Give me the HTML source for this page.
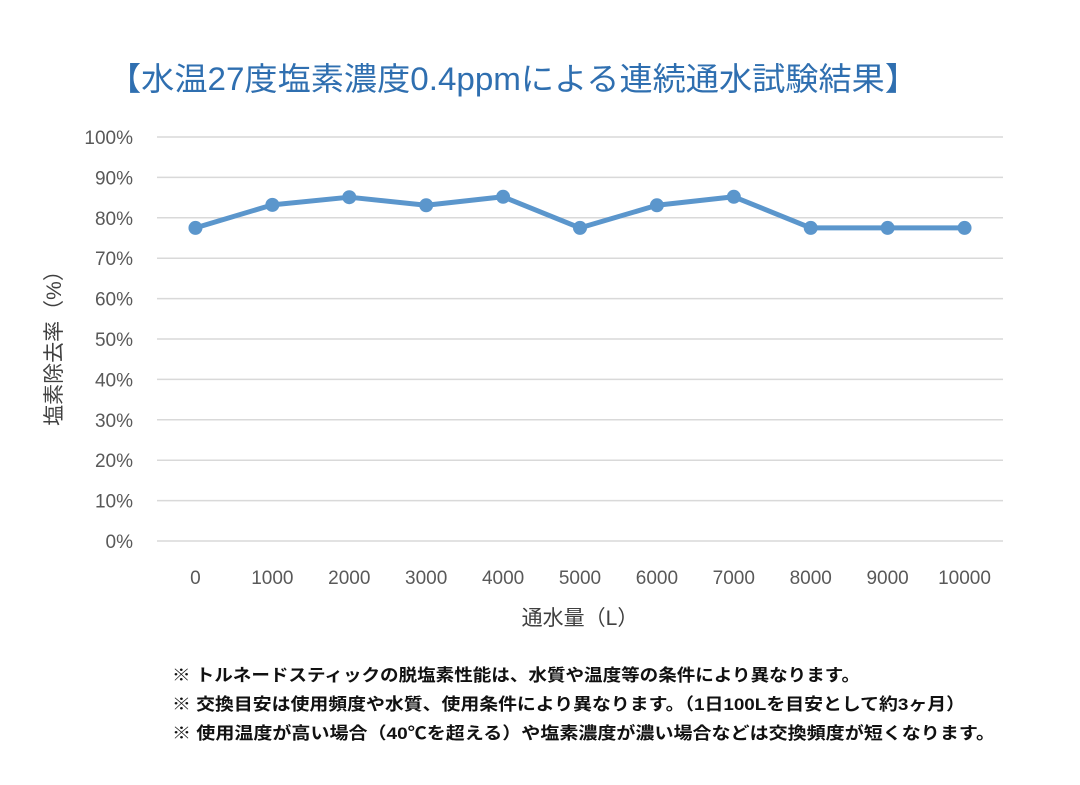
<!DOCTYPE html>
<html><head><meta charset="utf-8"><style>
body{margin:0;background:#fff;width:1080px;height:780px;overflow:hidden;font-family:"Liberation Sans","Noto Sans CJK JP",sans-serif}
</style></head><body>
<svg id="c" width="1080" height="780" style="font-family:'Liberation Sans','Noto Sans CJK JP',sans-serif">
<text x="108" y="90" font-size="32" fill="#2f6fb0" textLength="810" lengthAdjust="spacingAndGlyphs">【水温27度塩素濃度0.4ppmによる連続通水試験結果】</text>
<g id="grid"></g><g id="ylab"></g><g id="xlab"></g><g id="series"></g>
<text transform="translate(61,343) rotate(-90)" text-anchor="middle" font-size="21" fill="#404040">塩素除去率（%）</text>
<text x="580" y="625" text-anchor="middle" font-size="21" fill="#404040">通水量（L）</text>
<g font-size="17" fill="#111" font-weight="600">
<text x="172" y="681" textLength="688" lengthAdjust="spacingAndGlyphs">※ トルネードスティックの脱塩素性能は、水質や温度等の条件により異なります。</text>
<text x="172" y="710" textLength="793" lengthAdjust="spacingAndGlyphs">※ 交換目安は使用頻度や水質、使用条件により異なります。（1日100Lを目安として約3ヶ月）</text>
<text x="172" y="739" textLength="823" lengthAdjust="spacingAndGlyphs">※ 使用温度が高い場合（40℃を超える）や塩素濃度が濃い場合などは交換頻度が短くなります。</text>
</g>
</svg>
<script>
const categories=["0","1000","2000","3000","4000","5000","6000","7000","8000","9000","10000"];
const values=[77.5,83.2,85.1,83.1,85.2,77.5,83.1,85.2,77.5,77.5,77.5];
const yTicks=[0,10,20,30,40,50,60,70,80,90,100];
const NS="http://www.w3.org/2000/svg";
const L=157,R=1003,T=137,B=541;
const bw=(R-L)/categories.length;
const x=i=>L+bw*(i+0.5);
const y=v=>B-(B-T)*v/100;
function mk(t,a,p){const e=document.createElementNS(NS,t);for(const k in a)e.setAttribute(k,a[k]);p.appendChild(e);return e;}
const g=document.getElementById('grid'),yl=document.getElementById('ylab'),xl=document.getElementById('xlab'),s=document.getElementById('series');
yTicks.forEach(v=>{
 const l=mk('line',{x1:L,x2:R,y1:y(v),y2:y(v),stroke:'#d9d9d9','stroke-width':1.5},g);
 
 
 const t=mk('text',{x:133,y:y(v)+7,'text-anchor':'end','font-size':19,fill:'#595959'},yl);
 t.textContent=v+'%';
 
 
});
categories.forEach((c,i)=>{
 const t=mk('text',{x:x(i),y:584,'text-anchor':'middle','font-size':19,fill:'#595959'},xl);
 t.textContent=c;
 
 
});
const pl=mk('polyline',{points:values.map((v,i)=>x(i)+','+y(v)).join(' '),fill:'none',stroke:'#5b96cc','stroke-width':5,'stroke-linejoin':'round'},s);


values.forEach((v,i)=>{
 const c=mk('circle',{cx:x(i),cy:y(v),r:7,fill:'#5b96cc'},s);
 
 
});
</script>
</body></html>
